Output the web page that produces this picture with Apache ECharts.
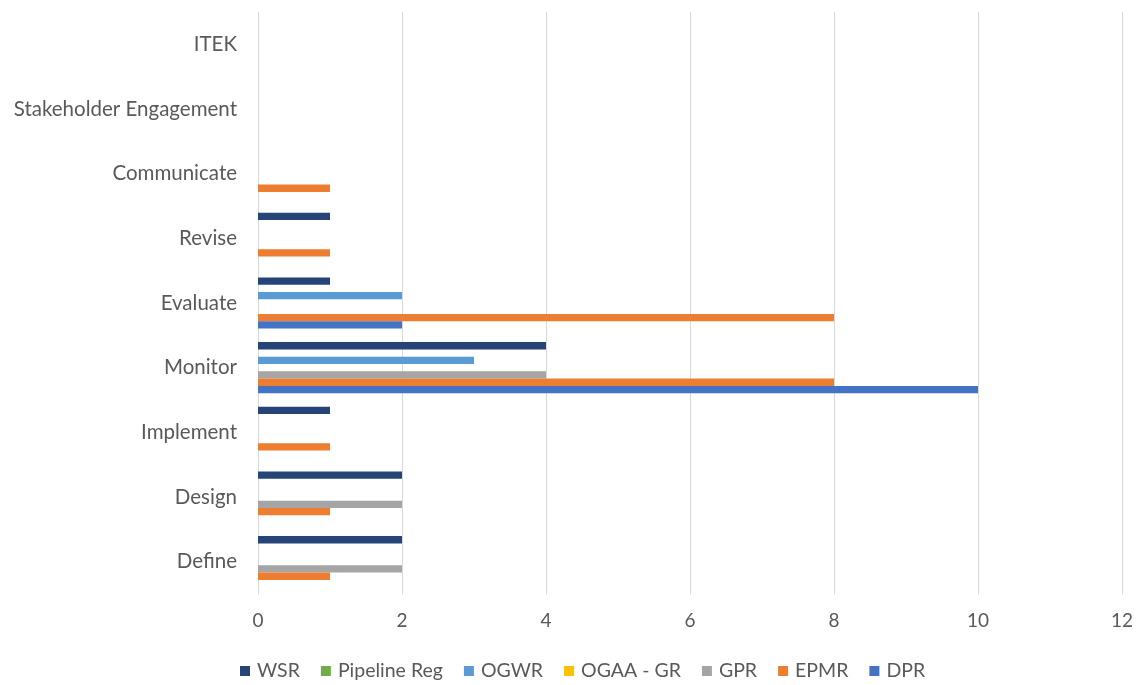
<!DOCTYPE html>
<html>
<head>
<meta charset="utf-8">
<script src="https://cdn.jsdelivr.net/npm/echarts@6/dist/echarts.min.js"></script>
<style>
  html, body { margin: 0; padding: 0; background: #fff; }
  #chart { width: 1138px; height: 685px; }
</style>
</head>
<body>
<div id="chart"></div>
<script>
// Process stages, listed bottom to top
const stages = ['Define', 'Design', 'Implement', 'Monitor', 'Evaluate', 'Revise', 'Communicate', 'Stakeholder Engagement', 'ITEK'];

// Counts per regulation, in the same stage order
const WSR          = [2, 2, 1, 4, 1, 1, 0, 0, 0];
const pipelineReg  = [0, 0, 0, 0, 0, 0, 0, 0, 0];
const OGWR         = [0, 0, 0, 3, 2, 0, 0, 0, 0];
const OGAA_GR      = [0, 0, 0, 0, 0, 0, 0, 0, 0];
const GPR          = [2, 2, 0, 4, 0, 0, 0, 0, 0];
const EPMR         = [1, 1, 1, 8, 8, 1, 1, 0, 0];
const DPR          = [0, 0, 0, 10, 2, 0, 0, 0, 0];

const xTicks = { min: 0, max: 12, interval: 2 };

const seriesDefs = [
  { name: 'WSR', data: WSR, color: '#264478' },
  { name: 'Pipeline Reg', data: pipelineReg, color: '#70AD47' },
  { name: 'OGWR', data: OGWR, color: '#5B9BD5' },
  { name: 'OGAA - GR', data: OGAA_GR, color: '#FFC000' },
  { name: 'GPR', data: GPR, color: '#A5A5A5' },
  { name: 'EPMR', data: EPMR, color: '#ED7D31' },
  { name: 'DPR', data: DPR, color: '#4472C4' }
];

const FONT = 'Lato, "Open Sans", sans-serif';
const TEXT = '#595959';

const chart = echarts.init(document.getElementById('chart'), null, { renderer: 'canvas' });
chart.setOption({
  animation: false,
  backgroundColor: '#ffffff',
  textStyle: { fontFamily: FONT },
  grid: { left: 258, right: 16, top: 12, bottom: 91, containLabel: false, outerBoundsMode: 'none' },
  legend: {
    data: seriesDefs.map(s => s.name),
    left: 235,
    top: 656,
    icon: 'rect',
    itemWidth: 10,
    itemHeight: 10,
    itemGap: 21,
    textStyle: { color: TEXT, fontSize: 19.5, fontFamily: FONT, padding: [0, 0, 0, 2] }
  },
  xAxis: {
    type: 'value',
    min: xTicks.min,
    max: xTicks.max,
    interval: xTicks.interval,
    axisLine: { show: false },
    axisTick: { show: false },
    splitLine: { show: true, lineStyle: { color: '#d9d9d9', width: 1 } },
    axisLabel: { color: TEXT, fontSize: 19, margin: 17, fontFamily: FONT }
  },
  yAxis: {
    type: 'category',
    data: stages,
    axisLine: { show: false },
    axisTick: { show: false },
    axisLabel: { color: TEXT, fontSize: 20.5, margin: 21, fontFamily: FONT }
  },
  series: seriesDefs.map(s => ({
    name: s.name,
    type: 'bar',
    data: s.data,
    barGap: '0%',
    barCategoryGap: '21%',
    itemStyle: { color: s.color }
  }))
});
</script>
</body>
</html>
